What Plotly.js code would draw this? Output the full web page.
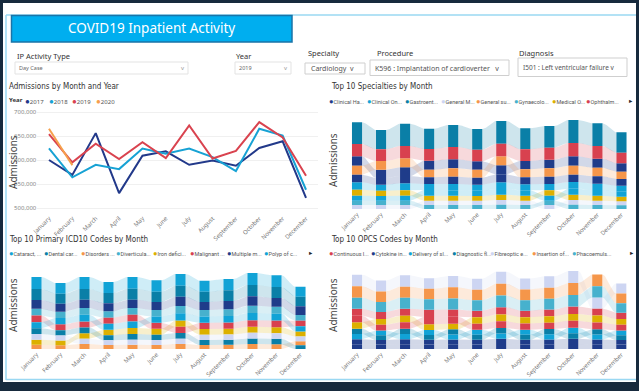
<!DOCTYPE html>
<html><head><meta charset="utf-8">
<script src="https://cdn.plot.ly/plotly-3.0.1.min.js"></script>
<style>html,body{margin:0;padding:0;background:#172a3d;overflow:hidden}#c{width:639px;height:391px}</style>
</head><body><div id="c"></div><script>
// ---------------- DATA ----------------
const months = ['January','February','March','April','May','June','July','August','September','October','November','December'];
const years = ['2017','2018','2019','2020'];
const adm2017 = [600000,569000,656000,531000,609000,618000,590000,599000,588000,625000,639000,521000];
const adm2018 = [624000,564000,590000,581000,624000,613000,624000,606000,577000,665000,651000,538000];
const adm2019 = [654000,595000,634000,602000,637000,604000,672000,603000,619000,679000,647000,567000];
const adm2020 = [665000,589000];

const specNames = ['Clinical Ha...','Clinical On...','Gastroent...','General M...','General su...','Gynaecolo...','Medical O...','Ophthalm...','Trauma & O...','Urology'];
const specClinHaem = [28,25,26,27,27,25,27,25,26,28,27,25];
const specClinOnc  = [22,18,21,18,19,18,20,18,19,20,19,18];
const specGastro   = [65,58,67,61,66,62,68,63,65,69,68,61];
const specGenMed   = [12,12,12,13,13,13,14,13,12,14,13,12];
const specGenSurg  = [27,26,27,23,25,24,27,24,25,27,26,22];
const specGynae    = [13,13,13,12,12,12,13,12,13,13,12,11];
const specMedOnc   = [18,16,16,15,15,14,16,15,16,16,15,14];
const specOphth    = [37,35,37,35,37,35,38,35,36,40,38,32];
const specTrauma   = [23,20,22,20,22,21,24,21,22,22,22,20];
const specUrology  = [15,14,15,17,16,16,17,16,15,18,17,15];

const icdNames = ['Cataract, ...','Dental car...','Disorders ...','Diverticula...','Iron defici...','Malignant ...','Multiple m...','Polyp of c...','Senile cat...','Other spec...'];
const icdCataract  = [36,32,36,33,35,34,35,33,34,36,35,30];
const icdDental    = [33,30,32,31,33,31,33,31,32,34,33,29];
const icdDisorders = [13,11,15,12,13,12,15,12,12.5,15,14,12];
const icdDiverti   = [20.5,19,20.5,19,20.5,19.5,22,19.5,20,22,21,17];
const icdIron      = [15,14.5,16.5,16,18,17.5,19,17,17,18,18,15];
const icdMalignant = [20,18,18,18.5,20,18,18.5,18.5,19,20,20,16.5];
const icdMyeloma   = [26,24,25,24,25,24,28,24,25,28,26,26];
const icdPolyp     = [18,18.5,20,18,19.5,19,21.5,19,19.5,21.5,20.5,16];
const icdSenile    = [17.5,16,17,15.5,17,16,17,15,15,16.5,16.5,11.5];
const icdOther     = [17,15,16,14,15,15,16,16,16,17,17,14];

const opcsNames = ['Continuous I...','Cytokine in...','Delivery of sl...','Diagnostic fl...','Fibreoptic e...','Insertion of...','Phacoemuls...','Other thera...','Percutaneo...','Radiotherapy...'];
const opcsContin   = [20.5,21,20.5,22,21.5,19.5,22,19.5,20,22,21,19];
const opcsCytokine = [15,13.6,15,14,14.5,14,15.5,14,14.5,15.5,14.5,13.6];
const opcsDelivery = [15.5,14.5,15.5,15,15,15.5,16,15.5,15.5,17,15,14.5];
const opcsDiagnost = [16,14,16,14.5,15.5,15,16.5,15,16,16.5,15.5,14];
const opcsFibreopt = [35,33,34,32,34,33,36,33,34,36,33,30];
const opcsInsert   = [34,31.5,33.5,31.5,33.5,32,35.5,32,33,35.5,35,29];
const opcsPhaco    = [33.5,30,33,31,33,31.5,35,31.5,32.5,35,34,28.5];
const opcsOther    = [19,17.5,20,17.5,17,19,20.5,19,19.5,20.8,20.8,17.5];
const opcsPercut   = [20,17,19,21.5,21,18,20,18.5,19,20.5,20.5,17];
const opcsRadio    = [14.5,13.4,14.6,13.6,14,13.6,15,13.6,14,15,14,13.4];

// ---------------- STYLE ----------------
const COL = {dkblue:'#1f3c8a', cyan:'#11a3d6', teal:'#0a7fa7', lav:'#cdd5f2', orange:'#f5964a', ltteal:'#47b1cd', yellow:'#dcb000', red:'#d8414f'};
const lineCols = ['#22398a','#17a2d4','#d9434f','#f6a04c'];
const specCols = [COL.dkblue,COL.cyan,COL.teal,COL.lav,COL.orange,COL.ltteal,COL.yellow,COL.red,COL.dkblue,COL.cyan];
const icdCols  = [COL.cyan,COL.teal,COL.orange,COL.ltteal,COL.yellow,COL.red,COL.dkblue,COL.cyan,COL.teal,COL.lav];
const opcsCols = [COL.red,COL.dkblue,COL.cyan,COL.teal,COL.lav,COL.orange,COL.ltteal,COL.yellow,COL.red,COL.dkblue];
const W=639,H=391;
const X=p=>p/W, Y=p=>1-p/H;
const TF = '"Liberation Sans Narrow","DejaVu Sans Condensed","Roboto",sans-serif';
const LF = '"Noto Sans","Open Sans",sans-serif';
const NF = '"Roboto","Liberation Sans Narrow",sans-serif';

function rgba(hex,a){const n=parseInt(hex.slice(1),16);return `rgba(${n>>16},${(n>>8)&255},${n&255},${a})`;}

const traces=[];
[adm2017,adm2018,adm2019,adm2020].forEach((arr,i)=>{
  traces.push({type:'scatter',mode:'lines',x:months.slice(0,arr.length),y:arr,name:years[i],
    line:{color:lineCols[i],width:2},xaxis:'x',yaxis:'y',hoverinfo:'skip',showlegend:false});
});

function ribbon(series, cols, xa, ya){
  const M=series[0].length;
  const y0=series.map(()=>[]), y1=series.map(()=>[]);
  for(let m=0;m<M;m++){
    const idx=series.map((_,i)=>i).sort((a,b)=>series[a][m]-series[b][m]);
    let acc=0; idx.forEach(i=>{y0[i][m]=acc; acc+=series[i][m]; y1[i][m]=acc;});
  }
  const hw=0.21, K=14;
  series.forEach((s,i)=>{
    const xs=[],ys=[];
    for(let m=0;m<M-1;m++){
      const xa0=m+hw, xb=m+1-hw;
      for(let k=0;k<=K;k++){const t=k/K,e=t*t*(3-2*t);xs.push(xa0+(xb-xa0)*t);ys.push(y1[i][m]+(y1[i][m+1]-y1[i][m])*e);}
      for(let k=K;k>=0;k--){const t=k/K,e=t*t*(3-2*t);xs.push(xa0+(xb-xa0)*t);ys.push(y0[i][m]+(y0[i][m+1]-y0[i][m])*e);}
      xs.push(xs[xs.length-2*K-2]);ys.push(ys[ys.length-2*K-2]);
      xs.push(null);ys.push(null);
    }
    traces.push({type:'scatter',mode:'lines',x:xs,y:ys,fill:'toself',fillcolor:rgba(cols[i],0.2),
      line:{color:'rgba(255,255,255,0)',width:0},xaxis:xa,yaxis:ya,hoverinfo:'skip',showlegend:false,connectgaps:false});
  });
  series.forEach((s,i)=>{
    traces.push({type:'bar',x:s.map((_,m)=>m),y:s,base:y0[i],width:0.42,marker:{color:cols[i],line:{width:0}},
      xaxis:xa,yaxis:ya,hoverinfo:'skip',showlegend:false});
  });
}
ribbon([specClinHaem,specClinOnc,specGastro,specGenMed,specGenSurg,specGynae,specMedOnc,specOphth,specTrauma,specUrology],specCols,'x2','y2');
ribbon([icdCataract,icdDental,icdDisorders,icdDiverti,icdIron,icdMalignant,icdMyeloma,icdPolyp,icdSenile,icdOther],icdCols,'x3','y3');
ribbon([opcsContin,opcsCytokine,opcsDelivery,opcsDiagnost,opcsFibreopt,opcsInsert,opcsPhaco,opcsOther,opcsPercut,opcsRadio],opcsCols,'x4','y4');

const ribX = (l,r)=>({domain:[X(l),X(r)],range:[-0.5,11.5],tickvals:months.map((_,i)=>i),ticktext:months,tickangle:-45,
  tickfont:{family:LF,size:6,color:'#777'},showgrid:false,zeroline:false,showline:false,ticks:'',fixedrange:true});
const ribY = (t,b,r)=>({domain:[Y(b),Y(t)],range:[0,r],visible:false,fixedrange:true});

const shapes=[
  {type:'rect',xref:'paper',yref:'paper',x0:X(3),x1:X(636),y0:Y(382),y1:Y(3),fillcolor:'#ffffff',line:{width:0},layer:'below'},
  {type:'line',xref:'paper',yref:'paper',x0:X(6),x1:X(636),y0:Y(15),y1:Y(15),line:{color:'#9ad8f2',width:1.5}},
  {type:'line',xref:'paper',yref:'paper',x0:X(6),x1:X(6),y0:Y(15),y1:Y(380),line:{color:'#9ad8f2',width:1.5}},
  {type:'line',xref:'paper',yref:'paper',x0:X(6),x1:X(636),y0:Y(379.5),y1:Y(379.5),line:{color:'#9ad8f2',width:1.5}},
  {type:'rect',xref:'paper',yref:'paper',x0:X(11.5),x1:X(292),y0:Y(42),y1:Y(15.5),fillcolor:'#00aeef',line:{color:'#1a74a8',width:1.5}},
  {type:'rect',xref:'paper',yref:'paper',x0:X(15),x1:X(188),y0:Y(74),y1:Y(62),fillcolor:'#fff',line:{color:'#e3e3e3',width:1}},
  {type:'rect',xref:'paper',yref:'paper',x0:X(235),x1:X(291),y0:Y(74),y1:Y(62),fillcolor:'#fff',line:{color:'#e3e3e3',width:1}},
  {type:'rect',xref:'paper',yref:'paper',x0:X(305),x1:X(365),y0:Y(74),y1:Y(63),fillcolor:'#fff',line:{color:'#cfcfcf',width:1}},
  {type:'rect',xref:'paper',yref:'paper',x0:X(370),x1:X(509),y0:Y(75.5),y1:Y(60),fillcolor:'#fff',line:{color:'#cfcfcf',width:1}},
  {type:'rect',xref:'paper',yref:'paper',x0:X(518),x1:X(627),y0:Y(76.5),y1:Y(58),fillcolor:'#fff',line:{color:'#cfcfcf',width:1}}
];

const ann=[];
function txt(x,y,t,size,color,family,opts){ann.push(Object.assign({xref:'paper',yref:'paper',x:X(x),y:Y(y),text:t,showarrow:false,
  xanchor:'left',yanchor:'middle',font:{size:size,color:color,family:family}},opts||{}));}
txt(151.5,28.5,'COVID19 Inpatient Activity',13.5,'#ffffff',LF,{xanchor:'center'});
txt(15,55.5,'IP Activity Type',7.5,'#333',LF);
txt(234,55.5,'Year',7.5,'#333',LF);
txt(306,53,'Specialty',7.5,'#333',LF);
txt(375,53,'Procedure',7.5,'#333',LF);
txt(517,53,'Diagnosis',7.5,'#333',LF);
txt(17,68.5,'Day Case',5.5,'#666',LF);
txt(179,68,'v',6,'#999',LF);
txt(237,68.5,'2019',5.5,'#666',LF);
txt(282,68,'v',6,'#999',LF);
txt(309,68.5,'Cardiology  v',7,'#555',LF);
txt(373,68,'K596 : Implantation of cardioverter   v',7,'#555',LF);
txt(521,67.5,'I501 : Left ventricular failure v',6.5,'#555',LF);

txt(7,87,'Admissions by Month and Year',8,'#333',TF);
txt(329,87,'Top 10 Specialties by Month',8,'#333',TF);
txt(7,239,'Top 10 Primary ICD10 Codes by Month',8,'#333',TF);
txt(329,239,'Top 10 OPCS Codes by Month',8,'#333',TF);

txt(13,162,'Admissions',10,'#444',LF,{textangle:-90,xanchor:'center'});
txt(333,160,'Admissions',10,'#444',LF,{textangle:-90,xanchor:'center'});
txt(13,305,'Admissions',10,'#444',LF,{textangle:-90,xanchor:'center'});
txt(333,305,'Admissions',10,'#444',LF,{textangle:-90,xanchor:'center'});

txt(7,100.5,'<b>Year</b>',6,'#333',LF);
const yearLegX=[23,46.5,70,93.5];
years.forEach((y,i)=>txt(yearLegX[i],100.5,`<span style="color:${lineCols[i]};font-size:8px">●</span>${y}`,6,'#555',LF));
function legend(names,cols,xs,y,arrowX){
  xs.forEach((x,i)=>txt(x,y,`<span style="color:${cols[i]};font-size:7.5px">●</span>${names[i]}`,5.5,'#555',NF));
  txt(arrowX,y,'►',5.5,'#222',LF);
}
legend(specNames,specCols,[327,365,403,439,474,512,550,584],101,626);
legend(icdNames,icdCols,[7,42,79,114,151,188,225,262],253,306);
legend(opcsNames,opcsCols,[327,369,406,450,488,530,570],253,627);

const layout={width:W,height:H,margin:{l:0,r:0,t:0,b:0},paper_bgcolor:'#172a3d',plot_bgcolor:'rgba(0,0,0,0)',
  barmode:'overlay',showlegend:false,shapes:shapes,annotations:ann,
  xaxis:{domain:[X(37.3),X(317.7)],type:'category',categoryarray:months,range:[-0.5,11.5],tickangle:-45,
    tickfont:{family:LF,size:6,color:'#777'},showgrid:false,zeroline:false,showline:false,ticks:'',fixedrange:true},
  yaxis:{domain:[Y(212.8),Y(107.2)],range:[490000,710000],tickvals:[500000,550000,600000,650000,700000],tickformat:',',
    tickfont:{family:LF,size:6,color:'#888'},gridcolor:'#f0f0f0',gridwidth:1,zeroline:false,showline:false,ticks:'',fixedrange:true},
  xaxis2:ribX(345,633.5), yaxis2:ribY(115,209,282),
  xaxis3:ribX(24.5,312.5), yaxis3:ribY(269,349,240),
  xaxis4:ribX(345,633.3), yaxis4:ribY(269,349,240)
};
layout.xaxis2.anchor='y2';layout.yaxis2.anchor='x2';
layout.xaxis3.anchor='y3';layout.yaxis3.anchor='x3';
layout.xaxis4.anchor='y4';layout.yaxis4.anchor='x4';
Plotly.newPlot('c',traces,layout,{displayModeBar:false,staticPlot:true});
</script></body></html>
